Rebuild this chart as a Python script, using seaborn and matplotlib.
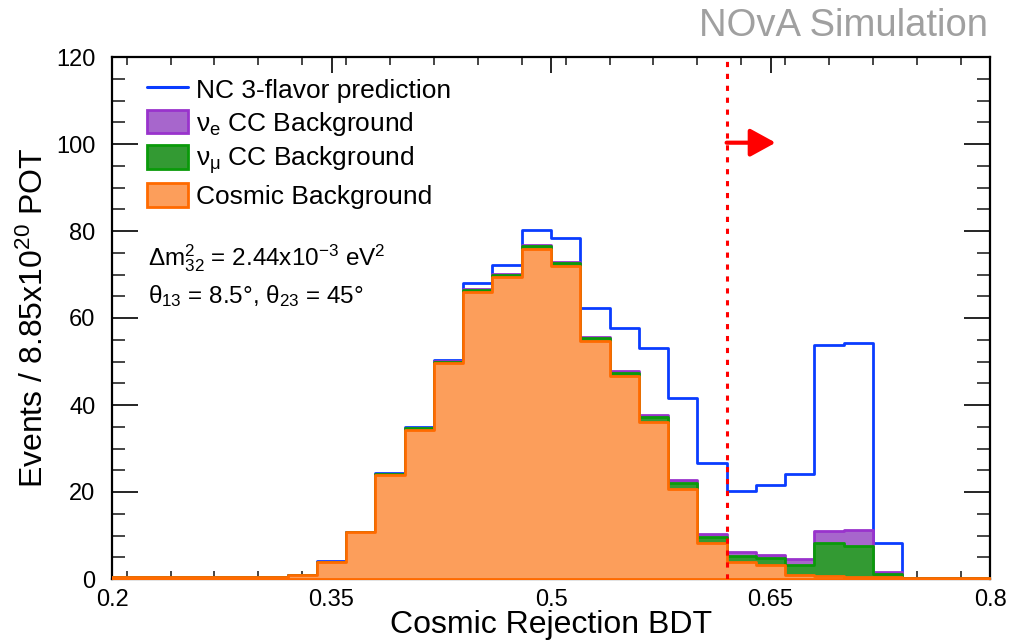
import numpy as np
import pandas as pd
import matplotlib
matplotlib.use("Agg")
import matplotlib.pyplot as plt
from matplotlib.lines import Line2D
from matplotlib.patches import Patch
from matplotlib.ticker import MultipleLocator
import seaborn as sns

# ---------------- data ----------------
bin_edges = [round(0.20 + 0.02 * i, 2) for i in range(31)]  # 30 bins
cosmic = [0.4, 0.4, 0.4, 0.4, 0.4, 0.4, 0.9, 4.0, 10.7, 23.9, 34.3, 49.6, 66.0, 69.5, 75.9,
          72.0, 54.8, 46.7, 36.2, 20.6, 8.2, 4.0, 3.2, 0.9, 0.7, 0.5, 0.4, 0.3, 0.3, 0.3]
numu_cc = [0, 0, 0, 0, 0, 0, 0, 0, 0, 0.2, 0.3, 0.4, 0.5, 0.5, 0.6,
           0.7, 0.6, 0.7, 1.1, 1.5, 1.5, 1.4, 1.6, 2.3, 7.6, 7.1, 0.8, 0, 0, 0]
nue_cc = [0, 0, 0, 0, 0, 0, 0, 0, 0, 0.1, 0.1, 0.1, 0.2, 0.1, 0.2,
          0.2, 0.2, 0.4, 0.5, 0.7, 0.6, 0.7, 0.7, 1.3, 2.8, 3.7, 0.5, 0, 0, 0]
nc_signal = [0, 0, 0, 0, 0, 0, 0, 0.1, 0.1, 0.2, 0.2, 0.2, 1.3, 2.1, 3.5,
             5.6, 6.6, 9.8, 15.2, 18.7, 16.3, 14.1, 16.1, 19.6, 42.8, 42.9, 6.5, 0, 0, 0]

cut_value = 0.62
x_ticks = [0.2, 0.35, 0.5, 0.65, 0.8]
x_tick_labels = ["0.2", "0.35", "0.5", "0.65", "0.8"]
y_ticks = [0, 20, 40, 60, 80, 100, 120]

legend_labels = ["NC 3-flavor prediction", r"$\nu_e$ CC Background",
                 r"$\nu_\mu$ CC Background", "Cosmic Background"]

# ---------------- style ----------------
sns.set_theme(style="ticks")
plt.rcParams["font.family"] = ["Liberation Sans", "DejaVu Sans"]
plt.rcParams["mathtext.fontset"] = "custom"
plt.rcParams["mathtext.rm"] = "Liberation Sans"
plt.rcParams["mathtext.it"] = "Liberation Sans"
plt.rcParams["mathtext.bf"] = "Liberation Sans:bold"
plt.rcParams["text.color"] = "black"
plt.rcParams["axes.labelcolor"] = "black"

c_orange_fill, c_orange_edge = "#FC9E5B", "#FF6A00"
c_green_fill, c_green_edge = "#339A33", "#0A9A0A"
c_purple_fill, c_purple_edge = "#A766CC", "#9933CC"
c_blue = "#0A3CFF"

edges_arr = np.array(bin_edges)
df = pd.DataFrame({
    "center": (edges_arr[:-1] + edges_arr[1:]) / 2,
    "cosmic": cosmic, "numu": numu_cc, "nue": nue_cc, "nc": nc_signal,
})
df["top_cosmic"] = df["cosmic"]
df["top_numu"] = df["top_cosmic"] + df["numu"]
df["top_nue"] = df["top_numu"] + df["nue"]
df["top_total"] = df["top_nue"] + df["nc"]

fig = plt.figure(figsize=(10.10, 6.41), dpi=100)
ax = fig.add_axes([112 / 1010, 1 - 579 / 641, 878 / 1010, 522 / 641])

lw = 2.0
sns.histplot(data=df, x="center", weights="top_total", bins=bin_edges, element="step",
             fill=False, color=c_blue, linewidth=lw, ax=ax, zorder=2)
sns.histplot(data=df, x="center", weights="top_nue", bins=bin_edges, element="step",
             fill=True, color=c_purple_fill, alpha=1, edgecolor=c_purple_edge,
             linewidth=lw, ax=ax, zorder=3)
sns.histplot(data=df, x="center", weights="top_numu", bins=bin_edges, element="step",
             fill=True, color=c_green_fill, alpha=1, edgecolor=c_green_edge,
             linewidth=lw, ax=ax, zorder=4)
sns.histplot(data=df, x="center", weights="top_cosmic", bins=bin_edges, element="step",
             fill=True, color=c_orange_fill, alpha=1, edgecolor=c_orange_edge,
             linewidth=lw, ax=ax, zorder=5)

# cut line and arrow
ax.axvline(cut_value, color="red", linewidth=2.2, linestyle=(0, (1.7, 2.2)),
           dash_capstyle="butt", zorder=6)
ax.annotate("", xy=(0.6535, 100.3), xytext=(cut_value, 100.3),
            arrowprops=dict(arrowstyle="-|>,head_length=1.55,head_width=0.85",
                            color="red", lw=3, shrinkA=0, shrinkB=0,
                            mutation_scale=10), zorder=7)

ax.set_xlim(0.2, 0.8)
ax.set_ylim(0, 120)
ax.set_xticks(x_ticks)
ax.set_xticklabels(x_tick_labels)
ax.set_yticks(y_ticks)
ax.xaxis.set_minor_locator(MultipleLocator(0.03))
ax.yaxis.set_minor_locator(MultipleLocator(5))
ax.tick_params(axis="x", which="major", direction="in", length=11.3, width=1.2,
               top=True, labelsize=17, pad=7, colors="black")
ax.tick_params(axis="x", which="minor", direction="in", length=5.6, width=1.2, top=True)
ax.tick_params(axis="y", which="major", direction="in", length=18.8, width=1.2,
               right=True, labelsize=17, pad=12, colors="black")
ax.tick_params(axis="y", which="minor", direction="in", length=9.4, width=1.2, right=True)
for s in ax.spines.values():
    s.set_visible(True)
    s.set_linewidth(1.6)
    s.set_color("black")

ax.set_xlabel("Cosmic Rejection BDT", fontsize=23)
ax.set_ylabel(r"Events / 8.85x10$^{20}$ POT", fontsize=23)
ax.xaxis.set_label_coords(0.5, -0.06)
ax.yaxis.set_label_coords(-0.071, 0.5)

handles = [
    Line2D([0], [0], color=c_blue, linewidth=2.2),
    Patch(facecolor=c_purple_fill, edgecolor=c_purple_edge, linewidth=2),
    Patch(facecolor=c_green_fill, edgecolor=c_green_edge, linewidth=2),
    Patch(facecolor=c_orange_fill, edgecolor=c_orange_edge, linewidth=2),
]
ax.legend(handles, legend_labels, loc="upper left", bbox_to_anchor=(0.04, 0.962),
          frameon=False, fontsize=19, handlelength=1.55, handleheight=1.0,
          handletextpad=0.3, labelspacing=0.26, borderaxespad=0, borderpad=0)

ax.text(0.2245, 73.8, r"$\Delta$m$^{2}_{32}$ = 2.44x10$^{-3}$ eV$^{2}$", fontsize=17.5,
        va="center", ha="left")
ax.text(0.2245, 65.0, r"$\theta_{13}$ = 8.5°, $\theta_{23}$ = 45°", fontsize=17.5,
        va="center", ha="left")

fig.text(988 / 1010, 1 - 26 / 641, "NOvA Simulation", fontsize=27.5, color="#A0A0A0",
         ha="right", va="center")

fig.savefig("out.png", dpi=100)
